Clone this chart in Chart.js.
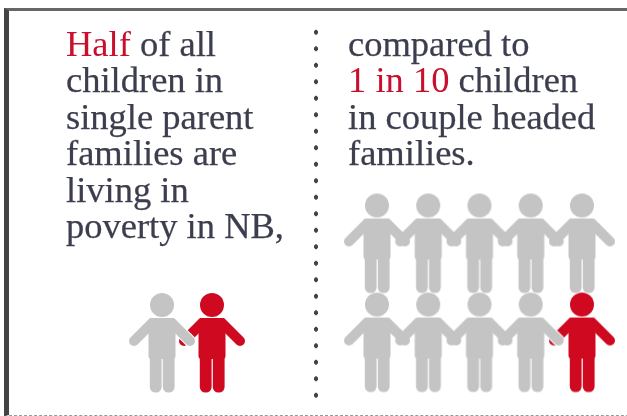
<!DOCTYPE html>
<html>
<head>
<meta charset="utf-8">
<title>Child poverty in NB</title>
<script src="https://cdn.jsdelivr.net/npm/chart.js@4"></script>
<style>
    html, body { margin: 0; padding: 0; background: #fff; }
    #page { position: relative; width: 627px; height: 416px; overflow: hidden; filter: blur(0.5px); }
    #frame { position: absolute; left: 4px; top: 8px; width: 640px; height: 408px; box-sizing: border-box;
             border-top: 3px solid #666; border-left: 5px solid #444; border-bottom: 1px dashed #999; }
    #divider { position: absolute; left: 313px; top: 24px; width: 6px; height: 380px;
               background: radial-gradient(circle, #444 2px, transparent 2.5px) 0 0 / 6px 16.5px repeat-y; }
    .copy { position: absolute; font-family: "Liberation Serif", serif; font-size: 36.5px; line-height: 36.4px; color: #3c3e4e; white-space: nowrap; -webkit-text-stroke: 0.25px #3c3e4e; }
    .copy b { font-weight: normal; color: #c8102e; -webkit-text-stroke: 0; }
    canvas { position: absolute; }
</style>
</head>
<body>
<div id="page">
    <div id="frame"></div>
    <div id="divider"></div>
    <div class="copy" style="left:66px; top:26px"><b>Half</b> of all<br>children in<br>single parent<br>families are<br>living in<br>poverty in NB,</div>
    <div class="copy" style="left:348px; top:26px">compared to<br><b>1 in 10</b> children<br>in couple headed<br>families.</div>
    <canvas id="singleChart" width="150" height="120" style="left:112px; top:283px"></canvas>
    <canvas id="coupleChart" width="287" height="218" style="left:336px; top:184px"></canvas>
</div>
<script>
const singleParentChildren = 2;
const singleParentInPoverty = 1;
const coupleChildren = 10;
const coupleInPoverty = 1;
const childrenPerRow = 5;

// Figure of one child, used as the point style
function makeFigure(color) {
    const c = document.createElement('canvas');
    c.width = 90;
    c.height = 110;
    const g = c.getContext('2d');
    g.translate(45, 55);
    g.lineCap = 'round';

    // white edge so that the hand stands out from the next child
    g.strokeStyle = '#fff';
    g.lineWidth = 12;
    g.beginPath(); g.moveTo(10, -20); g.lineTo(28, -2); g.stroke();

    g.fillStyle = color;
    g.strokeStyle = color;
    g.beginPath(); g.arc(0, -38, 12, 0, Math.PI * 2); g.fill();
    g.beginPath(); g.roundRect(-13.5, -25, 27, 41, 3); g.fill();
    g.beginPath(); g.roundRect(-12.2, 5, 11.8, 44.5, 5.5); g.fill();
    g.beginPath(); g.roundRect(0.8, 5, 11.8, 44.5, 5.5); g.fill();
    g.lineWidth = 10;
    g.beginPath(); g.moveTo(-10, -20); g.lineTo(-28, -2); g.stroke();
    g.beginPath(); g.moveTo(10, -20); g.lineTo(28, -2); g.stroke();
    return c;
}

const greyFigure = makeFigure('#c4c4c4');
const redFigure = makeFigure('#cf0a20');

// Lay the children out in a grid, the ones in poverty come last
function childPoints(total, inPoverty, perRow) {
    const rows = Math.ceil(total / perRow);
    const grey = [];
    const red = [];
    for (let i = 0; i < total; i++) {
        const p = { x: i % perRow, y: rows - 1 - Math.floor(i / perRow) };
        if (i < total - inPoverty) grey.push(p); else red.push(p);
    }
    return { grey, red };
}

function drawChildren(id, points, xMin, xMax, yMin, yMax) {
    return new Chart(document.getElementById(id), {
        type: 'scatter',
        data: {
            datasets: [
                { label: 'Not in poverty', data: points.grey, pointStyle: greyFigure, clip: false },
                { label: 'In poverty', data: points.red, pointStyle: redFigure, clip: false }
            ]
        },
        options: {
            responsive: false,
            animation: false,
            devicePixelRatio: 1,
            layout: { padding: 0, autoPadding: false },
            plugins: { legend: { display: false }, tooltip: { enabled: false } },
            scales: {
                x: { display: false, min: xMin, max: xMax },
                y: { display: false, min: yMin, max: yMax }
            }
        }
    });
}

drawChildren('singleChart', childPoints(singleParentChildren, singleParentInPoverty, childrenPerRow), -1, 2, -0.5, 0.5);
drawChildren('coupleChart', childPoints(coupleChildren, coupleInPoverty, childrenPerRow), -0.8, 4.8, -0.6, 1.6);
</script>
</body>
</html>
